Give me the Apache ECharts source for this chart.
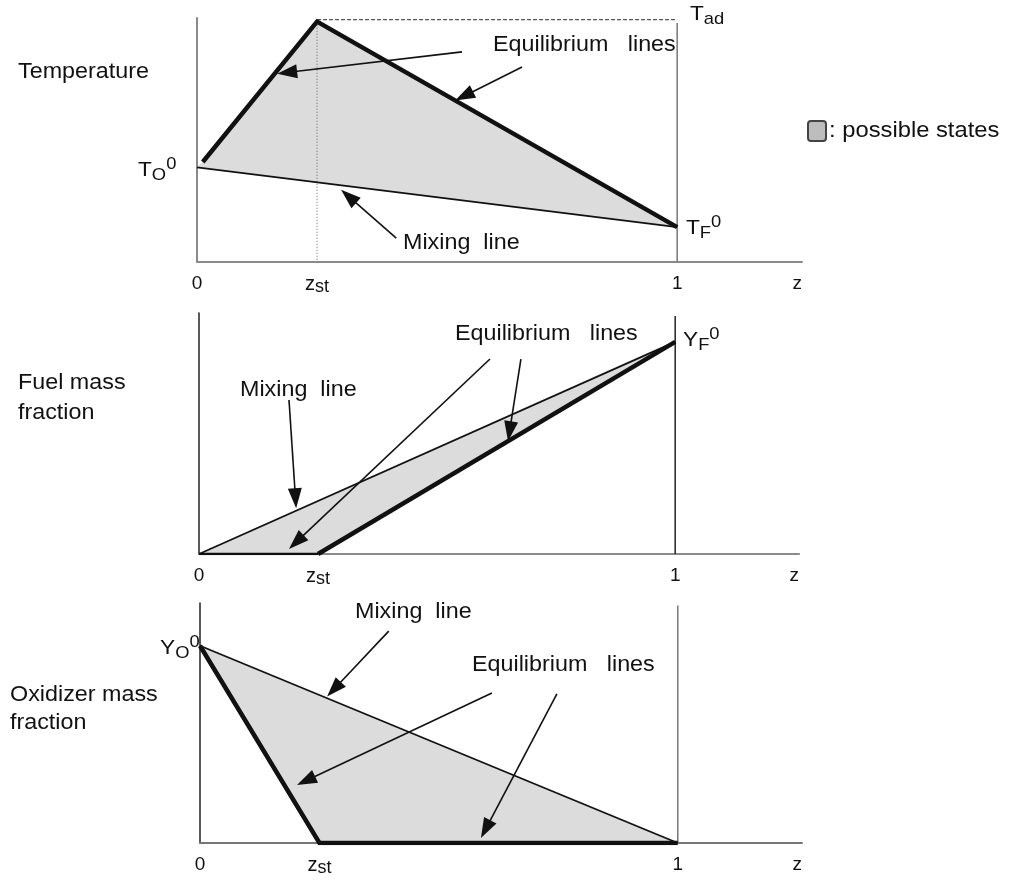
<!DOCTYPE html>
<html>
<head>
<meta charset="utf-8">
<script src="https://cdn.jsdelivr.net/npm/echarts@6/dist/echarts.min.js"></script>
<style>
html,body{margin:0;padding:0;background:#fff;}
#chart{width:1014px;height:883px;}
</style>
</head>
<body>
<div id="chart"></div>
<script>
// ---- tick labels along z ----
const zTicks = [0, 0.25, 1, 1.25];
const zTickLabels = ['0', 'zst', '1', 'z'];

// ---- Panel 1: temperature ----
const tempRegion = [[0, 0.388], [0.012, 0.41], [0.25, 0.985], [1, 0.143]];
const tempMixing = [[0, 0.388], [1, 0.143]];
const tempEquilibrium = [[0.012, 0.41], [0.25, 0.985], [1, 0.143]];
const tempTad = [[0.25, 0.993], [1, 0.993]];
const tempZst = [[0.25, 0.985], [0.25, 0]];
const tempZOne = [[1, 0], [1, 0.98]];
const tempArrows = [[0.552, 0.861, 0.167, 0.772], [0.677, 0.799, 0.5375, 0.662], [0.415, 0.098, 0.30, 0.296]];

// ---- Panel 2: fuel mass fraction ----
const fuelRegion = [[0, 0], [0.25, 0], [1, 0.88]];
const fuelMixing = [[0, 0], [1, 0.88]];
const fuelEquilibriumLow = [[0, 0], [0.25, 0]];
const fuelEquilibrium = [[0.25, 0], [1, 0.88]];
const fuelZOne = [[1, 0], [1, 0.988]];
const fuelArrows = [[0.189, 0.639, 0.204, 0.19], [0.611, 0.809, 0.189, 0.021], [0.676, 0.809, 0.649, 0.468]];

// ---- Panel 3: oxidizer mass fraction ----
const oxRegion = [[0, 0.822], [0.25, 0], [1, 0]];
const oxMixing = [[0, 0.822], [1, 0]];
const oxEquilibrium = [[0, 0.822], [0.25, 0], [1, 0]];
const oxZOne = [[1, 0], [1, 0.99]];
const oxArrows = [[0.395, 0.883, 0.266, 0.61], [0.611, 0.625, 0.203, 0.242], [0.747, 0.621, 0.588, 0.021]];

const FONT = 'Liberation Sans';
const INK = '#111';
const FILL = '#dcdcdc';
const REGION_NAME = ': possible states';

const chart = echarts.init(document.getElementById('chart'), null, {renderer: 'canvas'});

function xAxisFor(gi, color) {
  return {
    gridIndex: gi, type: 'value', min: 0, max: 1.26,
    axisLine: {show: true, lineStyle: {color: color, width: 2}},
    axisTick: {show: false}, splitLine: {show: false},
    axisLabel: {
      customValues: zTicks, margin: 10, color: INK, fontFamily: FONT,
      formatter: function (v) {
        const i = zTicks.indexOf(v);
        const t = i >= 0 ? zTickLabels[i] : '';
        if (t === 'zst') return '{m|z}{s|st}';
        return '{n|' + t + '}';
      },
      rich: {
        n: {fontSize: 19, lineHeight: 24, fontFamily: FONT, color: INK},
        m: {fontSize: 20, lineHeight: 24, fontFamily: FONT, color: INK},
        s: {fontSize: 18, lineHeight: 10, verticalAlign: 'bottom', fontFamily: FONT, color: INK}
      }
    }
  };
}
function yAxisFor(gi, color, w) {
  return {
    gridIndex: gi, type: 'value', min: 0, max: 1,
    axisLine: {show: true, lineStyle: {color: color, width: w}},
    axisTick: {show: false}, splitLine: {show: false}, axisLabel: {show: false}
  };
}
function flat(pts) { const a = []; pts.forEach(p => { a.push(p[0], p[1]); }); return a; }
function regionSeries(gi, pts) {
  const n = pts.length;
  const dims = []; for (let i = 0; i < n; i++) { dims.push('x' + i, 'y' + i); }
  return {
    type: 'custom', name: REGION_NAME, xAxisIndex: gi, yAxisIndex: gi, z: 1,
    dimensions: dims, data: [flat(pts)], silent: true,
    renderItem: function (params, api) {
      const p = [];
      for (let i = 0; i < n; i++) p.push(api.coord([api.value(2 * i), api.value(2 * i + 1)]));
      return {type: 'polygon', shape: {points: p}, style: {fill: FILL, stroke: null}};
    }
  };
}
function lineSeries(gi, pts, width, color, type, z) {
  return {
    type: 'line', xAxisIndex: gi, yAxisIndex: gi, data: pts, symbol: 'none', silent: true,
    z: z || 3, animation: false,
    lineStyle: {width: width, color: color || INK, type: type || 'solid', join: 'miter', cap: 'butt'}
  };
}
function arrowSeries(gi, arrows) {
  return {
    type: 'custom', xAxisIndex: gi, yAxisIndex: gi, z: 5, silent: true,
    dimensions: ['x0', 'y0', 'x1', 'y1'], data: arrows,
    renderItem: function (params, api) {
      const a = api.coord([api.value(0), api.value(1)]);
      const b = api.coord([api.value(2), api.value(3)]);
      const dx = b[0] - a[0], dy = b[1] - a[1];
      const len = Math.sqrt(dx * dx + dy * dy);
      const ux = dx / len, uy = dy / len;
      const L = 20, W = 7;
      const bx = b[0] - ux * L, by = b[1] - uy * L;
      return {
        type: 'group', children: [
          {type: 'line', shape: {x1: a[0], y1: a[1], x2: bx + ux * 2, y2: by + uy * 2}, style: {stroke: INK, lineWidth: 1.6}},
          {type: 'polygon', shape: {points: [[b[0], b[1]], [bx - uy * W, by + ux * W], [bx + uy * W, by - ux * W]]}, style: {fill: INK}}
        ]
      };
    }
  };
}

function label(text, x, y, sx) {
  return {
    type: 'text', x: x, y: y, z: 10, scaleX: sx || 1.06,
    style: {text: text, font: '22px "' + FONT + '"', fill: INK, verticalAlign: 'middle', align: 'left'}
  };
}
function symLabel(main, sub, sup, x, y) {
  let t = '{m|' + main + '}';
  if (sub) t += '{b|' + sub + '}';
  if (sup) t += '{p|' + sup + '}';
  return {
    type: 'text', x: x, y: y, z: 10, scaleX: 1.08,
    style: {
      text: t, verticalAlign: 'middle', align: 'left', fill: INK,
      rich: {
        m: {fontSize: 21, lineHeight: 28, fontFamily: FONT, fill: INK},
        b: {fontSize: 17, lineHeight: 16, verticalAlign: 'bottom', fontFamily: FONT, fill: INK},
        p: {fontSize: 17, lineHeight: 12, verticalAlign: 'top', fontFamily: FONT, fill: INK}
      }
    }
  };
}

const option = {
  animation: false,
  backgroundColor: '#fff',
  textStyle: {fontFamily: FONT},
  grid: [
    {left: 197, top: 18, width: 605, height: 244},
    {left: 199, top: 313, width: 600, height: 241},
    {left: 200, top: 603, width: 602, height: 240}
  ],
  xAxis: [xAxisFor(0, '#8a8a8a'), xAxisFor(1, '#8a8a8a'), xAxisFor(2, '#777')],
  yAxis: [yAxisFor(0, '#8a8a8a', 2), yAxisFor(1, '#222', 1.5), yAxisFor(2, '#222', 1.5)],
  series: [
    regionSeries(0, tempRegion),
    lineSeries(0, tempTad, 1.2, '#555', [4, 2], 2),
    lineSeries(0, tempZst, 1.2, '#777', [1, 2], 2),
    lineSeries(0, tempZOne, 1.5, '#777', 'solid', 2),
    lineSeries(0, tempMixing, 1.8, INK),
    lineSeries(0, tempEquilibrium, 4.5, INK),
    arrowSeries(0, tempArrows),

    regionSeries(1, fuelRegion),
    lineSeries(1, fuelZOne, 1.5, '#222', 'solid', 2),
    lineSeries(1, fuelMixing, 1.8, INK),
    lineSeries(1, fuelEquilibriumLow, 2.5, INK),
    lineSeries(1, fuelEquilibrium, 4.5, INK),
    arrowSeries(1, fuelArrows),

    regionSeries(2, oxRegion),
    lineSeries(2, oxZOne, 1.5, '#777', 'solid', 2),
    lineSeries(2, oxMixing, 1.8, INK),
    lineSeries(2, oxEquilibrium, 4.5, INK),
    arrowSeries(2, oxArrows)
  ],
  graphic: [
    {type: 'rect', x: 808, y: 121, z: 10, shape: {width: 18, height: 20, r: 3},
     style: {fill: '#bdbdbd', stroke: '#444', lineWidth: 2}},
    label(REGION_NAME, 829, 131, 1.08),
    label('Temperature', 18, 72),
    label('Fuel mass', 18, 383),
    label('fraction', 18, 413),
    label('Oxidizer mass', 10, 695),
    label('fraction', 10, 723),
    label('Equilibrium   lines', 493, 45),
    label('Mixing  line', 403, 243),
    label('Equilibrium   lines', 455, 334),
    label('Mixing  line', 240, 390),
    label('Mixing  line', 355, 612),
    label('Equilibrium   lines', 472, 665),
    symLabel('T', 'ad', null, 690, 14),
    symLabel('T', 'O', '0', 138, 170),
    symLabel('T', 'F', '0', 686, 228),
    symLabel('Y', 'F', '0', 683, 340),
    symLabel('Y', 'O', '0', 160, 648)
  ]
};
chart.setOption(option);
</script>
</body>
</html>
